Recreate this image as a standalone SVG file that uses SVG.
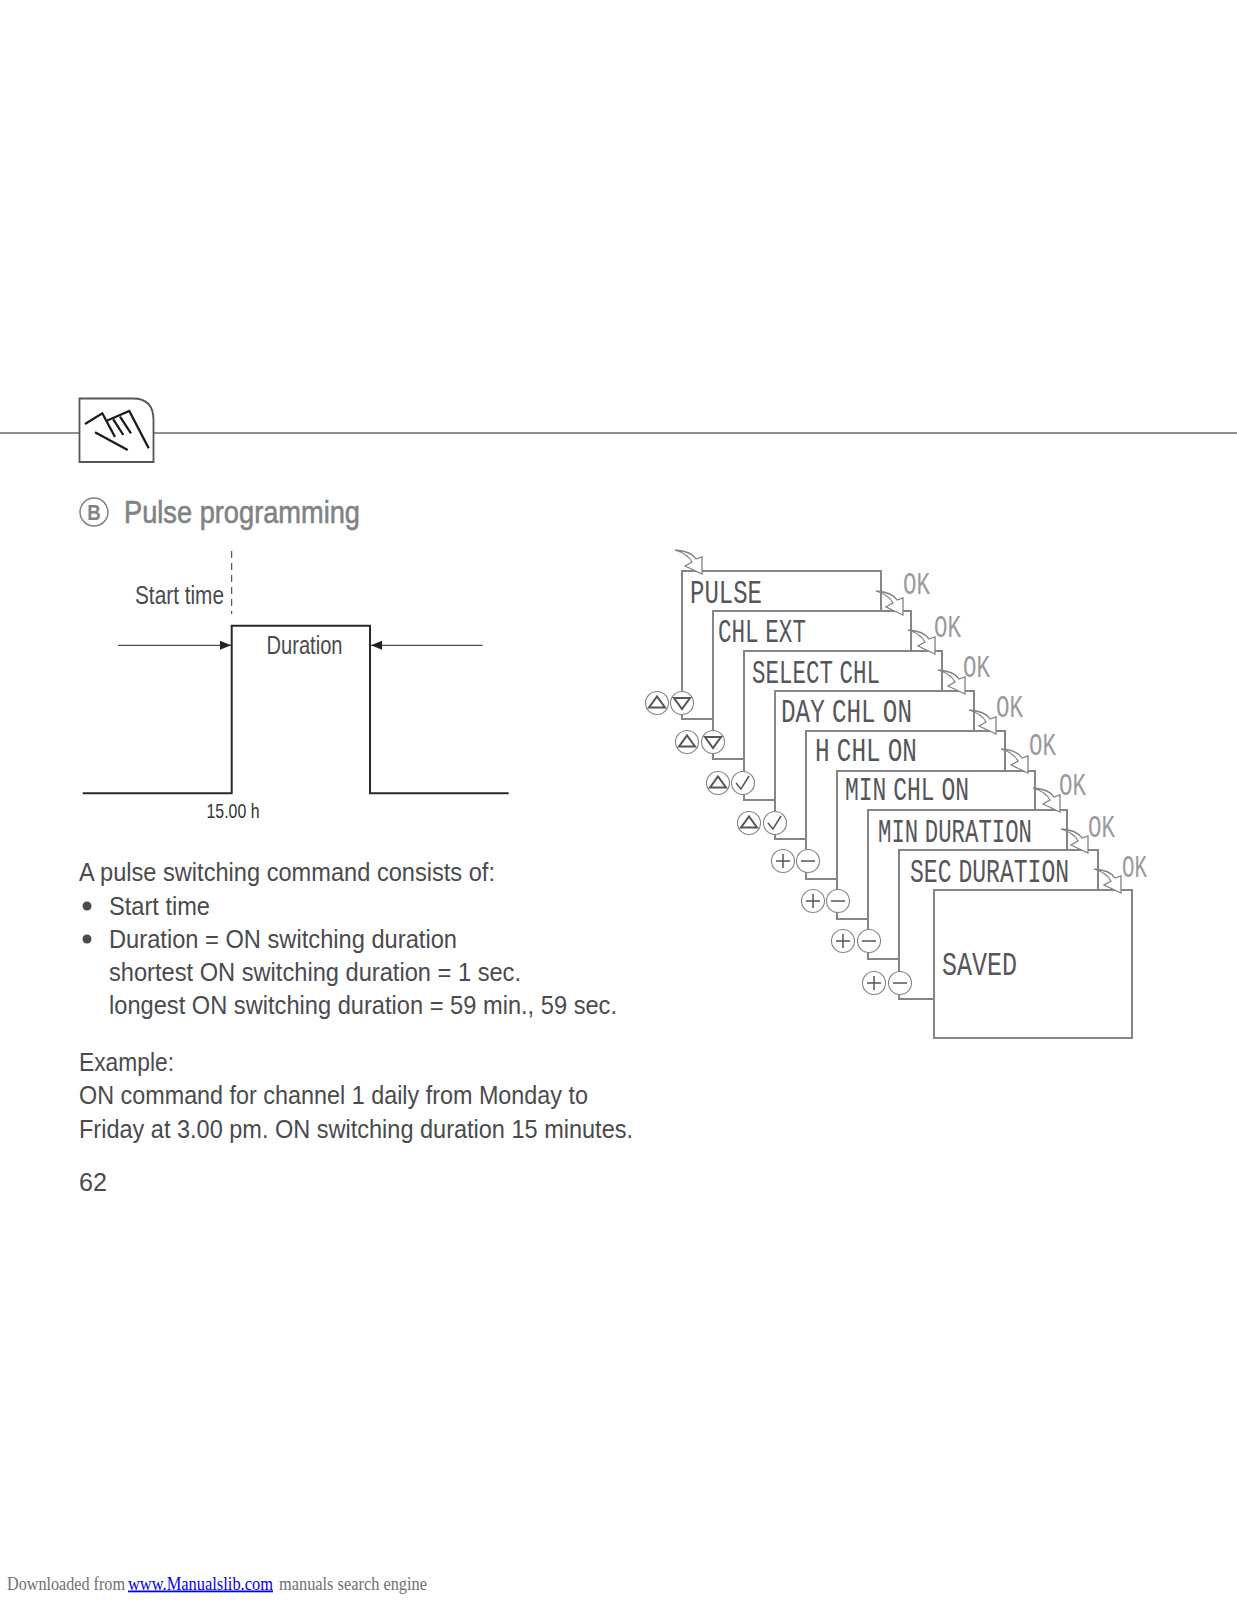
<svg xmlns="http://www.w3.org/2000/svg" width="1237" height="1600" viewBox="0 0 1237 1600">
<style>
text{font-family:"Liberation Sans",Arial,sans-serif}
.body{font-size:26px;fill:#4a4a4f}
.small{font-size:21px;fill:#4a4a4f}
.lcd{font-family:"Liberation Mono",monospace;font-size:33px;fill:#55555a;word-spacing:-10px}
.ok{font-family:"Liberation Mono",monospace;font-size:31px;fill:#9a9a9e}
.p{fill:#fff;stroke:#858689;stroke-width:2}
.c{fill:#fff;stroke:#808285;stroke-width:1.1}
.g{fill:none;stroke:#55555a;stroke-width:2}
.g2{fill:none;stroke:#55555a;stroke-width:1.5}
.foot{font-family:"Liberation Serif",serif;font-size:18px;fill:#6f6f6f}
.arr{fill:#fff;stroke:#808285;stroke-width:1.3;stroke-linejoin:miter}
</style>
<defs>
<path id="a" class="arr" d="M-27-24Q-11-23-6-15L0-17V0L-17-8-10-12Q-14-20-27-24Z"/>
<g id="up"><circle class="c" r="11.5"/><path class="g" d="M-8 4.5H8L0-6.5Z"/></g>
<g id="down"><circle class="c" r="11.5"/><path class="g" d="M-8-5H8L0 6Z"/></g>
<g id="check"><circle class="c" r="11.5"/><path class="g2" d="M-7 0L-2 6L6-7"/></g>
<g id="plus"><circle class="c" r="11.5"/><path class="g2" d="M-7 0H7M0-7V7"/></g>
<g id="minus"><circle class="c" r="11.5"/><path class="g2" d="M-7 0H7"/></g>
<marker id="tip" markerUnits="userSpaceOnUse" markerWidth="12" markerHeight="10" refX="11" refY="5" orient="auto"><path d="M0 .5L11 5L0 9.5Z" fill="#222"/></marker>
</defs>
<rect width="1237" height="1600" fill="#fff"/>

<g id="header">
<path d="M0 433H79M153 433H1237" stroke="#6b6b6b" stroke-width="1.5" fill="none"/>
<path d="M79.500 398.500H133Q153.500 398.500 153.500 420V462H79.500Z" fill="#fff" stroke="#55555a" stroke-width="1.8"/>
<path d="M85 424L102.300 413.300L115 437M106.700 420.700L129.300 411L148.700 448.300M113.300 419.300L123.300 435M120 416.700L131 433.300M95 432.300L127.700 450" fill="none" stroke="#1a1a1a" stroke-width="2.300"/>
<circle cx="94" cy="512" r="14" fill="none" stroke="#808285" stroke-width="1.500"/>
<text x="94" y="520" font-size="22" font-weight="700" fill="#808285" text-anchor="middle" transform="translate(94 0) scale(.85 1) translate(-94 0)">B</text>
<text x="124" y="523" font-size="32" fill="#808285" textLength="236" lengthAdjust="spacingAndGlyphs" style="stroke:#808285;stroke-width:.6">Pulse programming</text>
</g>

<g id="pulse-chart">
<path d="M231.700 551V614" stroke="#333" stroke-width="1" stroke-dasharray="7 5" fill="none"/>
<path d="M82.700 793.300H231.700V625.700H370V793.300H508.700" fill="none" stroke="#2a2a2a" stroke-width="2"/>
<path d="M118 645.300H231" stroke="#222" stroke-width="1" marker-end="url(#tip)"/>
<path d="M482.700 645.300H371" stroke="#222" stroke-width="1" marker-end="url(#tip)"/>
<text class="body" x="135" y="603.500" textLength="89" lengthAdjust="spacingAndGlyphs">Start time</text>
<text class="body" x="266.500" y="654" textLength="76" lengthAdjust="spacingAndGlyphs">Duration</text>
<text class="small" x="206.500" y="818" textLength="53" lengthAdjust="spacingAndGlyphs" style="fill:#333">15.00 h</text>
</g>

<g id="description">
<text class="body" x="79" y="880.500" textLength="416" lengthAdjust="spacingAndGlyphs">A pulse switching command consists of:</text>
<circle cx="87" cy="906" r="4.500" fill="#4a4a4f"/>
<text class="body" x="109" y="914.500" textLength="101" lengthAdjust="spacingAndGlyphs">Start time</text>
<circle cx="87" cy="939" r="4.500" fill="#4a4a4f"/>
<text class="body" x="109" y="947.500" textLength="348" lengthAdjust="spacingAndGlyphs">Duration = ON switching duration</text>
<text class="body" x="109" y="981" textLength="412" lengthAdjust="spacingAndGlyphs">shortest ON switching duration = 1 sec.</text>
<text class="body" x="109" y="1014" textLength="508" lengthAdjust="spacingAndGlyphs">longest ON switching duration = 59 min., 59 sec.</text>
<text class="body" x="79" y="1070.500" textLength="95" lengthAdjust="spacingAndGlyphs">Example:</text>
<text class="body" x="79" y="1104" textLength="509" lengthAdjust="spacingAndGlyphs">ON command for channel 1 daily from Monday to</text>
<text class="body" x="79" y="1137.500" textLength="554" lengthAdjust="spacingAndGlyphs">Friday at 3.00 pm. ON switching duration 15 minutes.</text>
<text class="body" x="79" y="1190.500" textLength="28" lengthAdjust="spacingAndGlyphs">62</text>
</g>

<g id="panel-pulse"><rect class="p" x="682" y="571" width="199" height="148"/><text class="lcd" transform="translate(690 603) scale(.727 1)">PULSE</text><use href="#up" x="657" y="703"/><use href="#down" x="682" y="703"/><text class="ok" x="903" y="594" textLength="27" lengthAdjust="spacingAndGlyphs">OK</text></g>
<g id="panel-chl-ext"><rect class="p" x="713" y="611" width="198" height="148"/><text class="lcd" transform="translate(718 642) scale(.684 1)">CHL EXT</text><use href="#up" x="687" y="742"/><use href="#down" x="713" y="742"/><text class="ok" x="934" y="637" textLength="27" lengthAdjust="spacingAndGlyphs">OK</text></g>
<g id="panel-select-chl"><rect class="p" x="744" y="651" width="198" height="149"/><text class="lcd" transform="translate(752 683) scale(.681 1)">SELECT CHL</text><use href="#up" x="718" y="783"/><use href="#check" x="743" y="783"/><text class="ok" x="963" y="677" textLength="27" lengthAdjust="spacingAndGlyphs">OK</text></g>
<g id="panel-day-chl-on"><rect class="p" x="775" y="691" width="199" height="148"/><text class="lcd" transform="translate(781 722) scale(.736 1)">DAY CHL ON</text><use href="#up" x="749" y="823"/><use href="#check" x="775" y="823"/><text class="ok" x="996" y="717" textLength="27" lengthAdjust="spacingAndGlyphs">OK</text></g>
<g id="panel-h-chl-on"><rect class="p" x="806" y="731" width="199" height="148"/><text class="lcd" transform="translate(815 761) scale(.737 1)">H CHL ON</text><use href="#plus" x="783" y="861"/><use href="#minus" x="808" y="861"/><text class="ok" x="1029" y="755" textLength="27" lengthAdjust="spacingAndGlyphs">OK</text></g>
<g id="panel-min-chl-on"><rect class="p" x="837" y="771" width="198" height="148"/><text class="lcd" transform="translate(845 800) scale(.697 1)">MIN CHL ON</text><use href="#plus" x="813" y="901"/><use href="#minus" x="838" y="901"/><text class="ok" x="1059" y="795" textLength="27" lengthAdjust="spacingAndGlyphs">OK</text></g>
<g id="panel-min-duration"><rect class="p" x="868" y="810" width="199" height="149"/><text class="lcd" transform="translate(878 842) scale(.677 1)">MIN DURATION</text><use href="#plus" x="843" y="941"/><use href="#minus" x="869" y="941"/><text class="ok" x="1088" y="837" textLength="27" lengthAdjust="spacingAndGlyphs">OK</text></g>
<g id="panel-sec-duration"><rect class="p" x="899" y="850" width="199" height="149"/><text class="lcd" transform="translate(910 882) scale(.699 1)">SEC DURATION</text><use href="#plus" x="874" y="983"/><use href="#minus" x="900" y="983"/><text class="ok" x="1122" y="877" textLength="25" lengthAdjust="spacingAndGlyphs">OK</text></g>
<g id="panel-saved"><rect class="p" x="934" y="890" width="198" height="148"/><text class="lcd" transform="translate(942 975) scale(.758 1)">SAVED</text></g>

<g id="connectors">
<use href="#a" x="702" y="574"/>
<use href="#a" x="903" y="615"/>
<use href="#a" x="935" y="654"/>
<use href="#a" x="965" y="694"/>
<use href="#a" x="996" y="734"/>
<use href="#a" x="1028" y="773"/>
<use href="#a" x="1060" y="812"/>
<use href="#a" x="1088" y="853"/>
<use href="#a" x="1121" y="893"/>
</g>

<g id="footer">
<text class="foot" x="7" y="1589.500" textLength="118" lengthAdjust="spacingAndGlyphs">Downloaded from</text>
<text class="foot" x="128" y="1589.500" textLength="145" lengthAdjust="spacingAndGlyphs" style="fill:#0000ee;text-decoration:underline">www.Manualslib.com</text>
<text class="foot" x="279" y="1589.500" textLength="148" lengthAdjust="spacingAndGlyphs">manuals search engine</text>
</g>
</svg>
